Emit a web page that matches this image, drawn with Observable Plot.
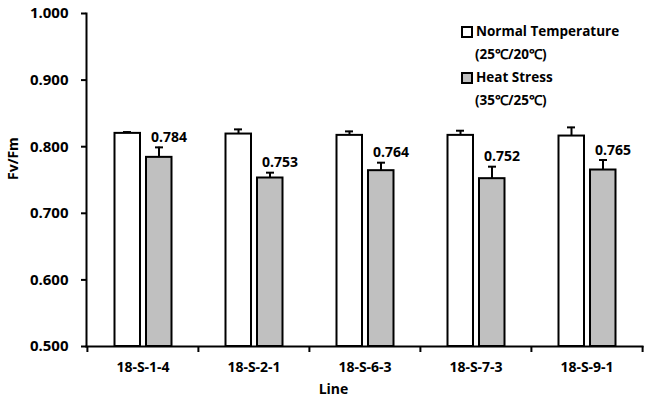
<!DOCTYPE html>
<html>
<head>
<meta charset="utf-8">
<script src="https://cdn.jsdelivr.net/npm/d3@7"></script>
<script src="https://cdn.jsdelivr.net/npm/@observablehq/plot@0.6"></script>
<style>
  html, body { margin: 0; padding: 0; background: #fff; }
  #wrap { position: relative; width: 645px; height: 405px; font-family: "Open Sans", sans-serif; font-weight: 700; }
  #legend { position: absolute; left: 461px; top: 20px; font-size: 13.5px; color: #000; line-height: 23px; }
  .item { display: flex; align-items: center; }
  .sw { width: 8px; height: 8px; border: 2px solid #000; margin-right: 3px; }
  .sub { padding-left: 14px; }
</style>
</head>
<body>
<div id="wrap"><div id="legend"></div></div>
<script>
const lines = ["18-S-1-4", "18-S-2-1", "18-S-6-3", "18-S-7-3", "18-S-9-1"];
const normalValues = [0.820, 0.819, 0.817, 0.817, 0.816];
const normalErrors = [0.002, 0.007, 0.006, 0.007, 0.013];
const heatValues = [0.784, 0.753, 0.764, 0.752, 0.765];
const heatErrors = [0.015, 0.008, 0.012, 0.018, 0.015];
const yTicks = [0.5, 0.6, 0.7, 0.8, 0.9, 1.0];
const seriesNames = ["Normal Temperature", "Heat Stress"];
const seriesSubs = ["(25℃/20℃)", "(35℃/25℃)"];
const seriesFills = ["#ffffff", "#c0c0c0"];
const xTitle = "Line";
const yTitle = "Fv/Fm";

const normal = lines.map((l, i) => ({line: l, v: normalValues[i], e: normalErrors[i]}));
const heat = lines.map((l, i) => ({line: l, v: heatValues[i], e: heatErrors[i]}));

const font = "Open Sans, sans-serif";
const half = 55.6;

const chart = Plot.plot({
  width: 645,
  height: 405,
  marginLeft: 86,
  marginRight: 3,
  marginTop: 13,
  marginBottom: 59,
  style: {fontFamily: font, fontWeight: 700, fontSize: "13px", color: "#000", background: "transparent"},
  x: {type: "band", domain: lines, padding: 0},
  y: {domain: [0.5, 1.0]},
  marks: [
    Plot.barY(normal, {x: "line", y1: 0.5, y2: "v", fill: seriesFills[0], stroke: "#000", strokeWidth: 2, insetLeft: 27.5, insetRight: 58}),
    Plot.barY(heat, {x: "line", y1: 0.5, y2: "v", fill: seriesFills[1], stroke: "#000", strokeWidth: 2, insetLeft: 59, insetRight: 26.5}),
    Plot.ruleX(normal, {x: "line", y1: "v", y2: d => d.v + d.e, dx: -15.5, stroke: "#000", strokeWidth: 2}),
    Plot.ruleX(heat, {x: "line", y1: "v", y2: d => d.v + d.e, dx: 16, stroke: "#000", strokeWidth: 2}),
    Plot.tickY(normal, {x: "line", y: d => d.v + d.e, insetLeft: 36, insetRight: 67, stroke: "#000", strokeWidth: 2}),
    Plot.tickY(heat, {x: "line", y: d => d.v + d.e, insetLeft: 68, insetRight: 35, stroke: "#000", strokeWidth: 2}),
    Plot.text(heat, {x: "line", y: d => d.v + d.e, text: d => d3.format(".3f")(d.v), dx: 8, dy: -10, textAnchor: "start", fontSize: 14, fontWeight: 700, fill: "#000"}),
    Plot.axisY({ticks: yTicks, tickFormat: d3.format(".3f"), tickSize: 5, tickPadding: 13, strokeWidth: 2, label: null, fontSize: 15}),
    Plot.axisX({tickSize: 0, tickPadding: 16, label: null, fontSize: 14}),
    Plot.axisX({tickSize: 6, tickFormat: () => "", dx: -half, strokeWidth: 2, label: null}),
    Plot.axisX({ticks: [lines[lines.length - 1]], tickSize: 6, tickFormat: () => "", dx: half, strokeWidth: 2, label: null}),
    Plot.frame({anchor: "left", stroke: "#000", strokeWidth: 2}),
    Plot.frame({anchor: "bottom", stroke: "#000", strokeWidth: 2}),
    Plot.text([xTitle], {frameAnchor: "bottom", dx: -31, dy: 47, fontSize: 14, fontWeight: 700, fill: "#000"}),
    Plot.text([yTitle], {frameAnchor: "left", dx: -73, rotate: -90, fontSize: 14, fontWeight: 700, fill: "#000"})
  ]
});
const wrap = document.getElementById("wrap");
wrap.insertBefore(chart, wrap.firstChild);

const legend = document.getElementById("legend");
seriesNames.forEach((name, i) => {
  const row = document.createElement("div");
  row.className = "item";
  const sw = document.createElement("span");
  sw.className = "sw";
  sw.style.background = seriesFills[i];
  const t = document.createElement("span");
  t.textContent = name;
  row.appendChild(sw); row.appendChild(t);
  legend.appendChild(row);
  const sub = document.createElement("div");
  sub.className = "sub";
  sub.textContent = seriesSubs[i];
  legend.appendChild(sub);
});
</script>
</body>
</html>
